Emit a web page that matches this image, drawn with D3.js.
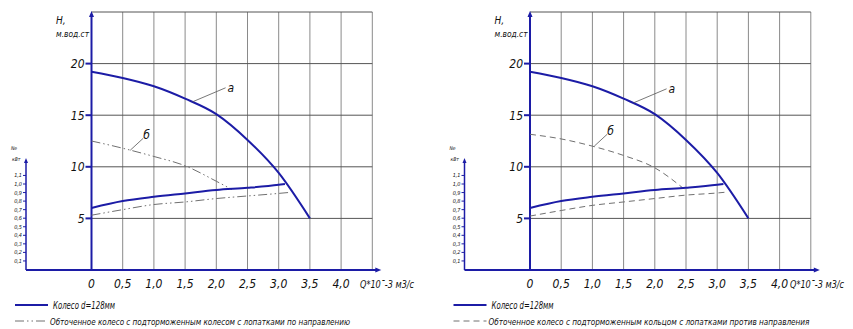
<!DOCTYPE html>
<html>
<head>
<meta charset="utf-8">
<script src="https://cdn.jsdelivr.net/npm/d3@7.9.0/dist/d3.min.js"></script>
<style>
  body { margin: 0; background: #fff; }
  text { font-family: "Liberation Sans Narrow", "DejaVu Sans Condensed", "Open Sans", sans-serif; font-style: italic; fill: #111; }
</style>
</head>
<body>
<svg id="chart" width="853" height="329"></svg>
<script>
// axis ticks
const qTicks = [0, 0.5, 1.0, 1.5, 2.0, 2.5, 3.0, 3.5, 4.0];
const hTicks = [5, 10, 15, 20];
const nTicks = [0.1, 0.2, 0.3, 0.4, 0.5, 0.6, 0.7, 0.8, 0.9, 1.0, 1.1];

// curve a: H-Q of wheel d=128mm (same on both panels)
const qA = [0, 0.5, 1.0, 1.5, 2.0, 2.5, 3.0, 3.5];
const hA = [19.2, 18.6, 17.8, 16.6, 15.1, 12.6, 9.4, 5.0];
// power of wheel d=128mm
const qNA = [0, 0.5, 1.0, 1.5, 2.0, 2.5, 3.0, 3.1];
const nA = [0.72, 0.80, 0.85, 0.89, 0.93, 0.955, 0.99, 1.0];

// curve б, left panel (dash-dot)
const qB1 = [0, 0.5, 1.0, 1.5, 2.0, 2.25];
const hB1 = [12.5, 11.8, 11.0, 10.1, 8.6, 7.8];
const qNB1 = [0, 0.5, 1.0, 1.5, 2.0, 2.5, 3.0, 3.15];
const nB1 = [0.635, 0.70, 0.76, 0.79, 0.83, 0.86, 0.89, 0.90];

// curve б, right panel (dashed)
const qB2 = [0, 0.5, 1.0, 1.5, 2.0, 2.48];
const hB2 = [13.15, 12.7, 12.0, 11.1, 9.9, 7.8];
const qNB2 = [0, 0.5, 1.0, 1.5, 2.0, 2.5, 3.0, 3.15];
const nB2 = [0.625, 0.69, 0.75, 0.79, 0.83, 0.87, 0.895, 0.905];

const legendA = 'Колесо d=128мм';
const legendB1 = 'Обточенное колесо с подторможенным колесом с лопатками по направлению';
const legendB2 = 'Обточенное колесо с подторможенным кольцом с лопатками против направления';
const qTitle = 'Q*10ˉ-3 м3/с';

const BLUE = '#1c1ca6';
const GREY = '#707070';

const svg = d3.select('#chart');
const fmt = (v) => d3.format('.1f')(v).replace('.', ',');

function zip(xs, ys) {
  return xs.map((x, i) => [x, ys[i]]);
}

function drawPanel(dx, bH, bN, bDash, legendB, legendLen, qTitleX, labelA, labelB) {
  const g = svg.append('g');
  let x = d3.scaleLinear().domain([0, 4.5]).range([91.5 + dx, 372.3 + dx]);
  let y = d3.scaleLinear().domain([0, 25]).range([270, 12]);
  let yN = d3.scaleLinear().domain([0, 1]).range([269.5, 184]);
  const nAxisX = 26 + dx;

  // grid
  g.selectAll('.vgrid').data(d3.range(1, 10).map((d) => d * 0.5)).join('line')
    .attr('x1', (d) => x(d)).attr('x2', (d) => x(d))
    .attr('y1', y(25)).attr('y2', y(0))
    .attr('stroke', '#8a8a8a').attr('stroke-width', 1);
  g.selectAll('.hgrid').data([5, 10, 15, 20, 25]).join('line')
    .attr('x1', x(0)).attr('x2', x(4.5))
    .attr('y1', (d) => y(d)).attr('y2', (d) => y(d))
    .attr('stroke', '#555').attr('stroke-width', 1);

  // axes
  g.append('line').attr('x1', nAxisX).attr('x2', x(4.5) + 4)
    .attr('y1', y(0)).attr('y2', y(0)).attr('stroke', BLUE).attr('stroke-width', 2);
  g.append('path')
    .attr('d', `M${x(4.5) + 9},${y(0)} l-6,-2.5 l0,5 z`).attr('fill', BLUE);
  g.append('line').attr('x1', x(0)).attr('x2', x(0))
    .attr('y1', y(0)).attr('y2', 16).attr('stroke', BLUE).attr('stroke-width', 2);
  g.append('path')
    .attr('d', `M${x(0)},11 l-2.5,6 l5,0 z`).attr('fill', BLUE);
  g.append('line').attr('x1', nAxisX).attr('x2', nAxisX)
    .attr('y1', y(0)).attr('y2', 163).attr('stroke', BLUE).attr('stroke-width', 1.5);
  g.append('path')
    .attr('d', `M${nAxisX},158 l-2,5 l4,0 z`).attr('fill', BLUE);

  // H ticks
  hTicks.forEach((t) => {
    g.append('line').attr('x1', x(0) - 6).attr('x2', x(0))
      .attr('y1', y(t)).attr('y2', y(t)).attr('stroke', BLUE).attr('stroke-width', 2);
    g.append('text').attr('x', x(0) - 7).attr('y', y(t) + 4.5)
      .attr('text-anchor', 'end').attr('font-size', 12).text(t);
  });
  // N ticks
  nTicks.forEach((t) => {
    g.append('line').attr('x1', nAxisX - 3).attr('x2', nAxisX)
      .attr('y1', yN(t)).attr('y2', yN(t)).attr('stroke', BLUE).attr('stroke-width', 1);
    g.append('text').attr('x', nAxisX - 4).attr('y', yN(t) + 2)
      .attr('text-anchor', 'end').attr('font-size', 5.5).text(fmt(t));
  });
  // Q labels
  qTicks.forEach((t) => {
    g.append('text').attr('x', x(t)).attr('y', 288)
      .attr('text-anchor', 'middle').attr('font-size', 12).text(t === 0 ? '0' : fmt(t));
  });

  // axis titles
  g.append('text').attr('x', 56 + dx).attr('y', 24).attr('font-size', 10).text('H,');
  g.append('text').attr('x', 56 + dx).attr('y', 37).attr('font-size', 9.5)
    .attr('textLength', 33).attr('lengthAdjust', 'spacingAndGlyphs').text('м.вод.ст');
  g.append('text').attr('x', 11 + dx).attr('y', 150).attr('font-size', 5).text('Ne');
  g.append('text').attr('x', 12 + dx).attr('y', 161).attr('font-size', 5).text('кВт');
  g.append('text').attr('x', qTitleX).attr('y', 288).attr('font-size', 10)
    .attr('textLength', 54).attr('lengthAdjust', 'spacingAndGlyphs').text(qTitle);

  // curves
  const lineH = d3.line().x((d) => x(d[0])).y((d) => y(d[1])).curve(d3.curveMonotoneX);
  const lineN = d3.line().x((d) => x(d[0])).y((d) => yN(d[1])).curve(d3.curveMonotoneX);

  g.append('path').attr('d', lineH(bH)).attr('fill', 'none')
    .attr('stroke', GREY).attr('stroke-width', 1).attr('stroke-dasharray', bDash);
  g.append('path').attr('d', lineN(bN)).attr('fill', 'none')
    .attr('stroke', GREY).attr('stroke-width', 1).attr('stroke-dasharray', bDash);
  g.append('path').attr('d', lineH(zip(qA, hA))).attr('fill', 'none')
    .attr('stroke', BLUE).attr('stroke-width', 2);
  g.append('path').attr('d', lineN(zip(qNA, nA))).attr('fill', 'none')
    .attr('stroke', BLUE).attr('stroke-width', 2);

  // leaders
  g.append('line').attr('x1', x(labelA.q)).attr('y1', y(labelA.h))
    .attr('x2', x(labelA.q) + 33).attr('y2', y(labelA.h) - 14)
    .attr('stroke', '#555').attr('stroke-width', 0.8);
  g.append('text').attr('x', x(labelA.q) + 35).attr('y', y(labelA.h) - 10)
    .attr('font-size', 12).text('а');
  g.append('line').attr('x1', x(labelB.q)).attr('y1', y(labelB.h))
    .attr('x2', x(labelB.q) + 13).attr('y2', y(labelB.h) - 12)
    .attr('stroke', '#555').attr('stroke-width', 0.8);
  g.append('text').attr('x', x(labelB.q) + 13).attr('y', y(labelB.h) - 11)
    .attr('font-size', 12).text('б');

  // legend
  g.append('line').attr('x1', 15 + dx).attr('x2', 48 + dx).attr('y1', 305).attr('y2', 305)
    .attr('stroke', BLUE).attr('stroke-width', 2);
  g.append('text').attr('x', 53 + dx).attr('y', 309).attr('font-size', 10)
    .attr('textLength', 62).attr('lengthAdjust', 'spacingAndGlyphs').text(legendA);
  g.append('line').attr('x1', 15 + dx).attr('x2', 48 + dx).attr('y1', 321).attr('y2', 321)
    .attr('stroke', GREY).attr('stroke-width', 1).attr('stroke-dasharray', bDash);
  g.append('text').attr('x', 50 + dx).attr('y', 325).attr('font-size', 9)
    .attr('textLength', legendLen).attr('lengthAdjust', 'spacingAndGlyphs').text(legendB);
}

drawPanel(0, zip(qB1, hB1), zip(qNB1, nB1), '9,3,1.5,3,1.5,3', legendB1, 300, 360,
  { q: 1.62, h: 16.3 }, { q: 0.62, h: 11.6 });
drawPanel(438.5, zip(qB2, hB2), zip(qNB2, nB2), '6,4', legendB2, 321, 790,
  { q: 1.66, h: 16.2 }, { q: 1.03, h: 12.0 });
</script>
</body>
</html>
